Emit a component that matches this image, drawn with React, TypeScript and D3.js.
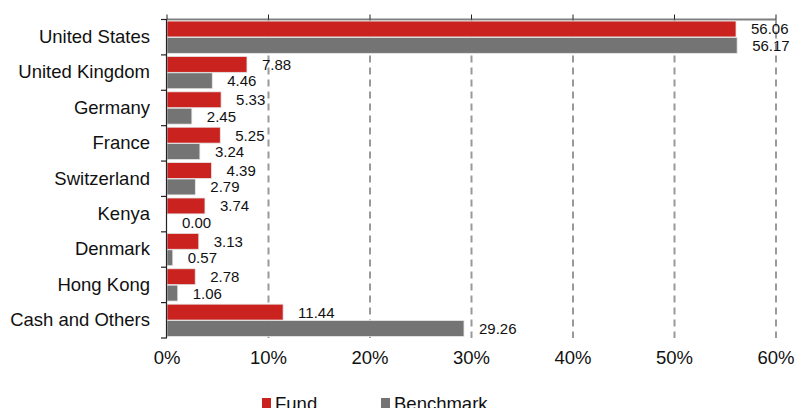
import React from "react";
import * as d3 from "d3";

const categories = [
  "United States",
  "United Kingdom",
  "Germany",
  "France",
  "Switzerland",
  "Kenya",
  "Denmark",
  "Hong Kong",
  "Cash and Others",
];
const fundValues = [56.06, 7.88, 5.33, 5.25, 4.39, 3.74, 3.13, 2.78, 11.44];
const benchmarkValues = [56.17, 4.46, 2.45, 3.24, 2.79, 0.0, 0.57, 1.06, 29.26];
const seriesNames = ["Fund", "Benchmark"];
const xTicks = [0, 10, 20, 30, 40, 50, 60];

const COLORS = ["#C9221F", "#747474"];
const FONT = "'Liberation Sans', Arial, sans-serif";

export default function App() {
  const W = 795;
  const H = 408;
  const left = 167;
  const right = 776;
  const top = 19.5;
  const bottom = 338;

  const x = d3.scaleLinear().domain([0, 60]).range([left, right]);
  const y = d3
    .scaleBand<string>()
    .domain(categories)
    .range([top, bottom])
    .paddingInner(0.06)
    .paddingOuter(0.03);
  const ySub = d3
    .scaleBand<string>()
    .domain(seriesNames)
    .range([0, y.bandwidth()])
    .padding(0.03);

  const step = (bottom - top) / categories.length;
  const series = [fundValues, benchmarkValues];

  return (
    <svg
      width={W}
      height={H}
      style={{ position: "absolute", left: 0, top: 0, background: "#fff" }}
      fontFamily={FONT}
    >
      {/* gridlines */}
      {xTicks
        .filter((t) => t > 0)
        .map((t) => (
          <line
            key={"g" + t}
            x1={x(t)}
            x2={x(t)}
            y1={top}
            y2={bottom}
            stroke="#9a9a9a"
            strokeWidth={2}
            strokeDasharray="7,5"
          />
        ))}
      {/* top axis */}
      <line x1={left} x2={right} y1={top} y2={top} stroke="#808080" strokeWidth={2} />
      {xTicks.map((t) => (
        <line key={"tt" + t} x1={x(t)} x2={x(t)} y1={top - 5} y2={top} stroke="#222" strokeWidth={1} />
      ))}
      {/* bars */}
      {categories.map((c, i) =>
        series.map((vals, s) => {
          const y0 = (y(c) ?? 0) + (ySub(seriesNames[s]) ?? 0);
          const h = ySub.bandwidth();
          const v = vals[i];
          return (
            <g key={c + s}>
              <rect
                x={x(0)}
                y={y0}
                width={Math.max(0, x(v) - x(0))}
                height={h}
                fill={COLORS[s]}
                stroke="#e6e6e6"
                strokeWidth={0.8}
              />
              <text
                x={x(v) + 15}
                y={y0 + h / 2 + 1.5}
                fontSize={15}
                dominantBaseline="middle"
                fill="#111"
              >
                {v.toFixed(2)}
              </text>
            </g>
          );
        })
      )}
      {/* left axis */}
      <line x1={left - 0.5} x2={left - 0.5} y1={top} y2={bottom} stroke="#222" strokeWidth={1.2} />
      {d3.range(categories.length + 1).map((i) => (
        <line
          key={"lt" + i}
          x1={left - 6}
          x2={left}
          y1={top + i * step}
          y2={top + i * step}
          stroke="#222"
          strokeWidth={1.2}
        />
      ))}
      {/* category labels */}
      {categories.map((c) => (
        <text
          key={"c" + c}
          x={150}
          y={(y(c) ?? 0) + y.bandwidth() / 2 + 1}
          textAnchor="end"
          dominantBaseline="middle"
          fontSize={18.5}
          fill="#111"
        >
          {c}
        </text>
      ))}
      {/* x tick labels */}
      {xTicks.map((t) => (
        <text key={"xl" + t} x={x(t)} y={364} textAnchor="middle" fontSize={18.5} fill="#111">
          {t + "%"}
        </text>
      ))}
      {/* legend */}
      {seriesNames.map((n, s) => {
        const lx = s === 0 ? 262 : 381;
        return (
          <g key={"lg" + n}>
            <rect x={lx} y={398} width={9} height={11} fill={COLORS[s]} />
            <text x={lx + 13} y={410} fontSize={18.5} fill="#111">
              {n}
            </text>
          </g>
        );
      })}
    </svg>
  );
}
